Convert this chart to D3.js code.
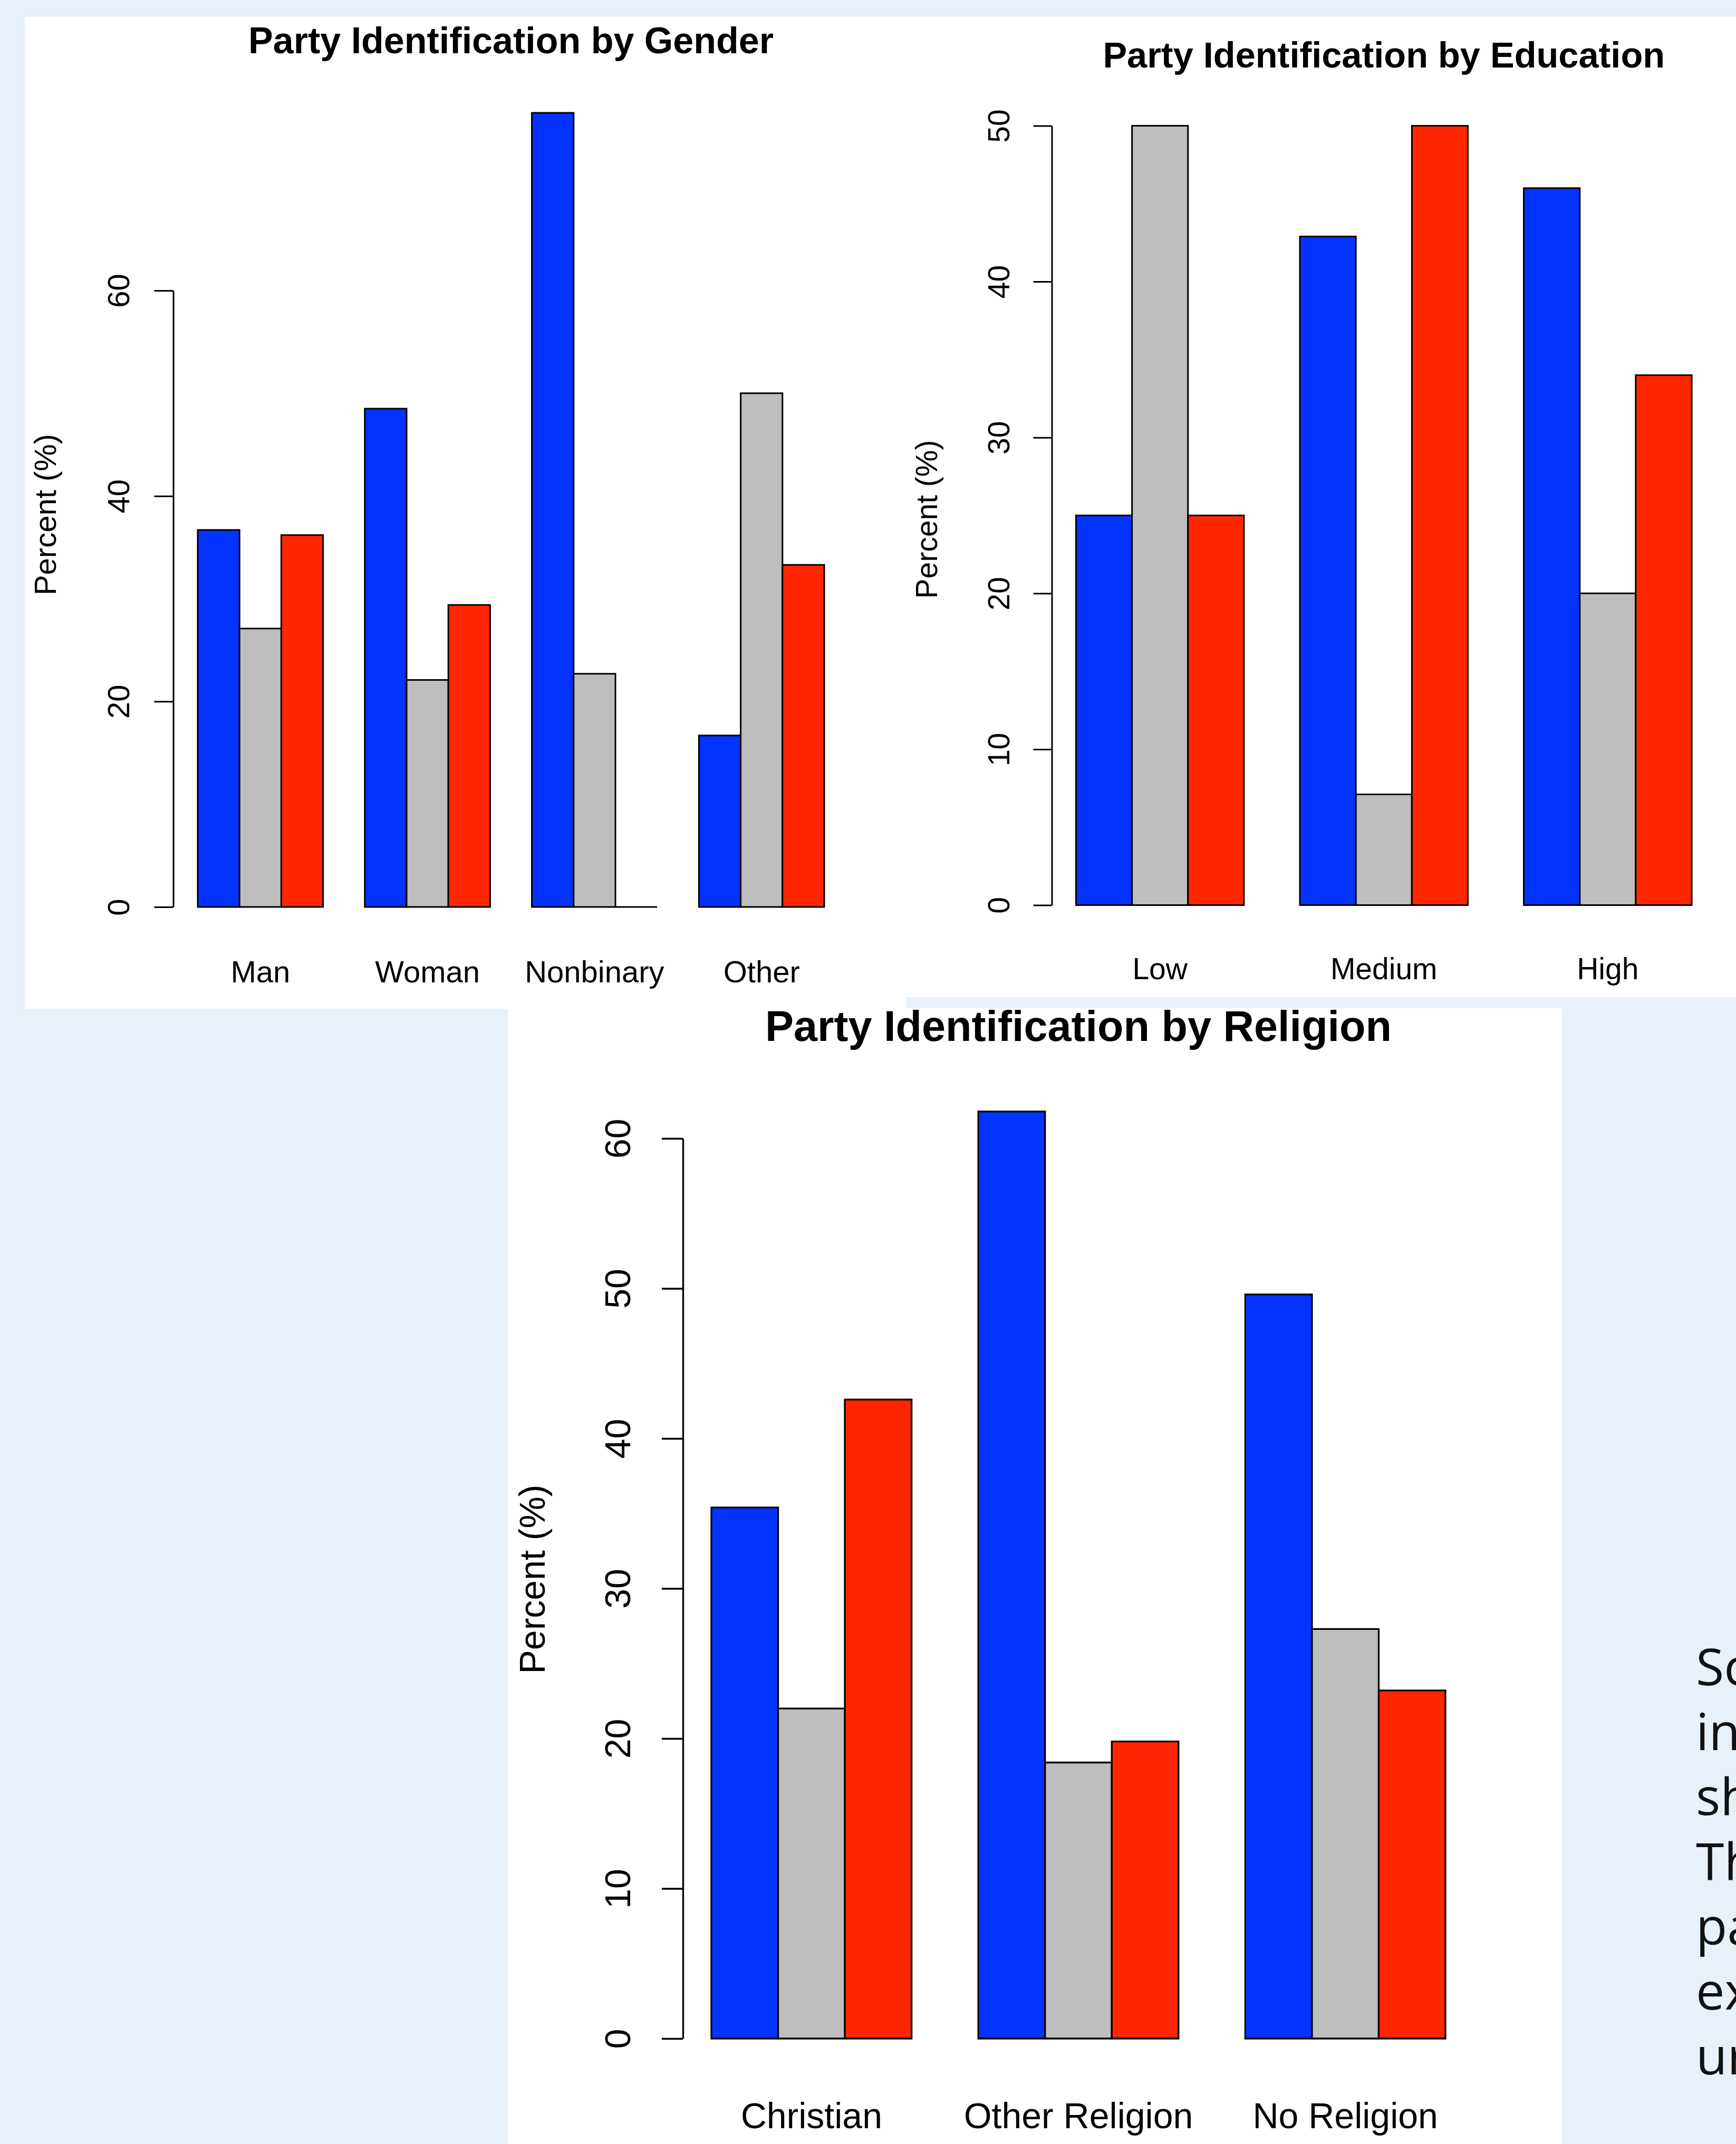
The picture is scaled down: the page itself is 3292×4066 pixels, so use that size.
<!DOCTYPE html>
<html>
<head>
<meta charset="utf-8">
<script src="https://cdn.jsdelivr.net/npm/d3@7"></script>
<style>
  html, body { margin: 0; padding: 0; background: #e8f0fa; }
  svg { display: block; }
</style>
</head>
<body>
<script>
// bar colours: blue / grey / red party groups
const seriesColors = ["#0433ff", "#bebebe", "#ff2600"];

const genderCategories = ["Man", "Woman", "Nonbinary", "Other"];
const genderBlue = [36.7, 48.5, 77.3, 16.7];
const genderGray = [27.1, 22.1, 22.7, 50.0];
const genderRed  = [36.2, 29.4, 0, 33.3];
const genderTicks = [0, 20, 40, 60];

const educationCategories = ["Low", "Medium", "High"];
const educationBlue = [25, 42.9, 46];
const educationGray = [50, 7.1, 20];
const educationRed  = [25, 50, 34];
const educationTicks = [0, 10, 20, 30, 40, 50];

const religionCategories = ["Christian", "Other Religion", "No Religion"];
const religionBlue = [35.4, 61.8, 49.6];
const religionGray = [22.0, 18.4, 27.3];
const religionRed  = [42.6, 19.8, 23.2];
const religionTicks = [0, 10, 20, 30, 40, 50, 60];

const sideText = ["Sc", "in", "sh", "Th", "pa", "ex", "ur"];

const W = 3292, H = 4066;
const ff = "'Liberation Sans', Arial, Helvetica, sans-serif";

const svg = d3.select("body").append("svg")
  .attr("width", W)
  .attr("height", H);

svg.append("rect").attr("width", W).attr("height", H).attr("fill", "#e8f0fa");

// white cards the three plots sit on
const cards = [[47, 32, 1718, 1913], [1718, 32, W, 1891], [963, 1912, 2961, H]];
svg.selectAll("rect.card")
  .data(cards)
  .enter()
  .append("rect")
  .attr("class", "card")
  .attr("x", d => d[0])
  .attr("y", d => d[1])
  .attr("width", d => d[2] - d[0])
  .attr("height", d => d[3] - d[1])
  .attr("fill", "#fff");

function drawPanel(p) {
  const rows = p.categories.map((c, i) => ({ cat: c, values: p.series.map(s => s[i]) }));

  // R barplot(beside=TRUE): one bar-width gap between groups
  const x = d3.scaleBand()
    .domain(p.categories)
    .range([p.left, p.right])
    .paddingInner(0.25)
    .paddingOuter(0);
  const xs = d3.scaleBand()
    .domain(d3.range(p.series.length))
    .range([0, x.bandwidth()]);

  const tickMax = d3.max(p.ticks);
  const y = d3.scaleLinear()
    .domain([0, tickMax])
    .range([p.y0, p.yTop]);

  const g = svg.append("g");

  const groups = g.selectAll("g.grp")
    .data(rows)
    .enter()
    .append("g")
    .attr("class", "grp")
    .attr("transform", d => `translate(${x(d.cat)},0)`);

  groups.selectAll("path")
    .data(d => d.values)
    .enter()
    .append("path")
    .attr("d", (v, i) => {
      const x0 = xs(i), x1 = xs(i) + xs.bandwidth();
      return `M${x0},${y(0)}V${y(v)}H${x1}V${y(0)}Z`;
    })
    .attr("fill", (v, i) => seriesColors[i])
    .attr("stroke", "#000")
    .attr("stroke-width", p.sw);

  const ax = g.append("g")
    .attr("transform", `translate(${p.axisX},0)`)
    .call(d3.axisLeft(y).tickValues(p.ticks).tickSize(p.tickLen).tickSizeOuter(0).tickFormat(d3.format("d")))
    .attr("font-size", p.font)
    .attr("font-family", ff);
  ax.select(".domain").attr("stroke-width", p.sw).attr("stroke", "#000");
  ax.selectAll(".tick line").attr("stroke-width", p.sw).attr("stroke", "#000");
  ax.selectAll(".tick text")
    .attr("x", null)
    .attr("dy", "0.36em")
    .attr("text-anchor", "middle")
    .attr("fill", "#000")
    .attr("transform", `translate(${p.tickLabelX - p.axisX},0) rotate(-90)`);

  g.append("text")
    .attr("transform", `translate(${p.yTitleX},${p.yTitleY}) rotate(-90)`)
    .attr("dy", "0.36em")
    .attr("text-anchor", "middle")
    .attr("font-family", ff)
    .attr("font-size", p.font)
    .text("Percent (%)");

  g.selectAll("text.cat")
    .data(p.categories)
    .enter()
    .append("text")
    .attr("class", "cat")
    .attr("x", d => x(d) + x.bandwidth() / 2)
    .attr("y", p.labelBase)
    .attr("text-anchor", "middle")
    .attr("font-family", ff)
    .attr("font-size", p.font)
    .text(d => d);

  g.append("text")
    .attr("x", (p.left + p.right) / 2)
    .attr("y", p.titleBase)
    .attr("text-anchor", "middle")
    .attr("font-family", ff)
    .attr("font-weight", "bold")
    .attr("font-size", p.titleFont)
    .text(p.title);
}

drawPanel({
  title: "Party Identification by Gender",
  categories: genderCategories,
  series: [genderBlue, genderGray, genderRed],
  ticks: genderTicks,
  left: 375, right: 1563,
  y0: 1720, yTop: 551,
  axisX: 328.5, tickLen: 36, tickLabelX: 224,
  yTitleX: 85, yTitleY: 976,
  labelBase: 1863, titleBase: 101,
  font: 58, titleFont: 70, sw: 3
});

drawPanel({
  title: "Party Identification by Education",
  categories: educationCategories,
  series: [educationBlue, educationGray, educationRed],
  ticks: educationTicks,
  left: 2040.5, right: 3208,
  y0: 1716.5, yTop: 238.5,
  axisX: 1994.5, tickLen: 35, tickLabelX: 1893,
  yTitleX: 1756, yTitleY: 985,
  labelBase: 1857, titleBase: 128,
  font: 57, titleFont: 68.5, sw: 3
});

drawPanel({
  title: "Party Identification by Religion",
  categories: religionCategories,
  series: [religionBlue, religionGray, religionRed],
  ticks: religionTicks,
  left: 1349, right: 2741,
  y0: 3866, yTop: 2159,
  axisX: 1295, tickLen: 40, tickLabelX: 1171,
  yTitleX: 1009, yTitleY: 2995,
  labelBase: 4036, titleBase: 1974,
  font: 68, titleFont: 81, sw: 3.3
});

// text from the page beside the plots, cut off by the right edge
svg.selectAll("text.side")
  .data(sideText)
  .enter()
  .append("text")
  .attr("class", "side")
  .attr("x", 3216)
  .attr("y", (d, i) => 3196 + i * 123)
  .attr("font-family", "'Open Sans', 'Noto Sans', sans-serif")
  .attr("font-size", 97)
  .attr("fill", "#111")
  .text(d => d);
</script>
</body>
</html>
